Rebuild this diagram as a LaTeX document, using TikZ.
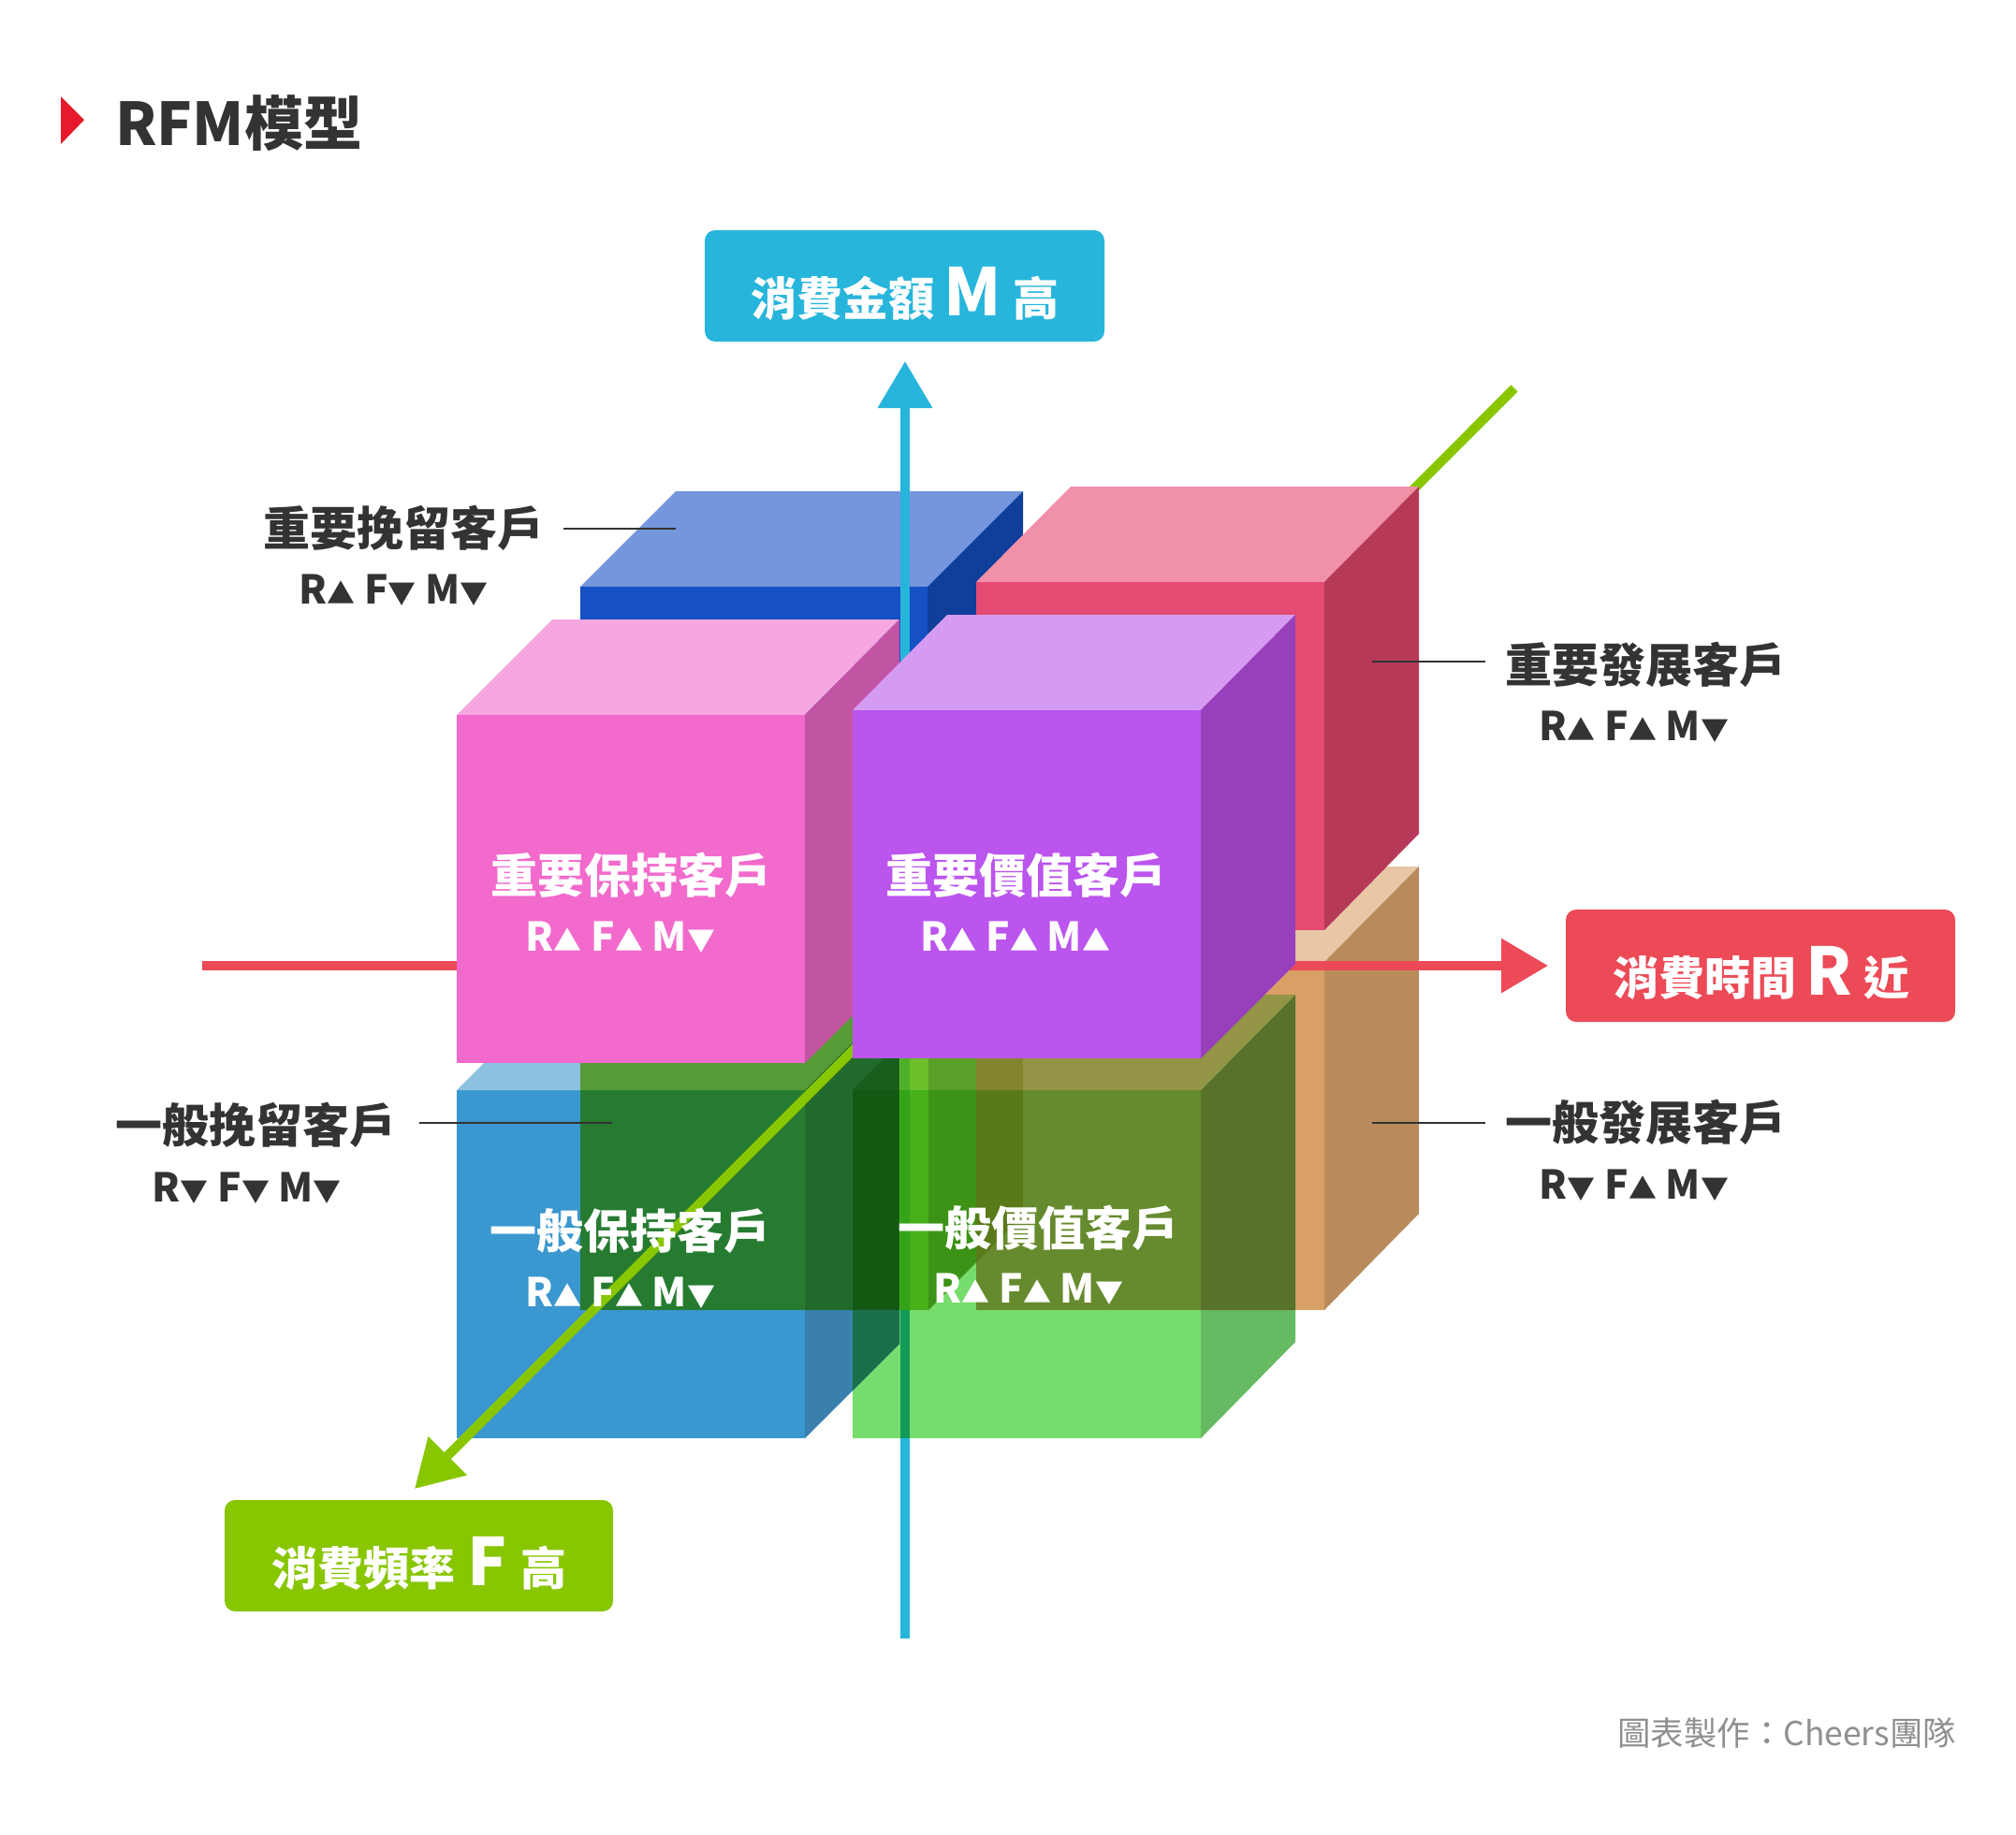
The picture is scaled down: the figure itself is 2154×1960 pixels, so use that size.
\documentclass[tikz,border=0pt]{standalone}
\usepackage{fontspec}
\setmainfont{Noto Sans CJK TC}
\usetikzlibrary{arrows.meta}
\definecolor{ink}{HTML}{333333}
\definecolor{credit}{HTML}{8F8F8F}
\definecolor{mblue}{HTML}{27B5DB}
\definecolor{rred}{HTML}{EC4A57}
\definecolor{fgreen}{HTML}{88C600}
\definecolor{mark}{HTML}{E8192C}
\definecolor{orange1}{HTML}{E8C6A6}
\definecolor{orange2}{HTML}{D9A066}
\definecolor{orange3}{HTML}{B98B5C}
\definecolor{lg1}{HTML}{75DC6D}
\definecolor{lg2}{HTML}{66BA62}
\definecolor{og1}{HTML}{668B2E}
\definecolor{og2}{HTML}{58722A}
\definecolor{og3}{HTML}{939445}
\definecolor{bl1}{HTML}{3B97CF}
\definecolor{bl2}{HTML}{3A80AD}
\definecolor{bl3}{HTML}{8CC1E0}
\definecolor{ov1}{HTML}{267B31}
\definecolor{ov2}{HTML}{569B35}
\definecolor{ov3}{HTML}{22692C}
\definecolor{ov4}{HTML}{19704B}
\definecolor{ov5}{HTML}{125A12}
\definecolor{ov6}{HTML}{175F1A}
\definecolor{ov7}{HTML}{48B018}
\definecolor{ov8}{HTML}{3C9316}
\definecolor{ov9}{HTML}{5A7A1A}
\definecolor{ot1}{HTML}{6BBF2A}
\definecolor{ot2}{HTML}{5C9F28}
\definecolor{ot3}{HTML}{83842D}
\definecolor{ax1}{HTML}{139A57}
\definecolor{ax2}{HTML}{33A31A}
\definecolor{ax3}{HTML}{4CB02A}
\definecolor{bb1}{HTML}{7595DC}
\definecolor{bb2}{HTML}{1550C4}
\definecolor{bb3}{HTML}{103E9B}
\definecolor{rd1}{HTML}{F090A9}
\definecolor{rd2}{HTML}{E54A72}
\definecolor{rd3}{HTML}{B63A58}
\definecolor{pk1}{HTML}{F6A6E1}
\definecolor{pk2}{HTML}{F26ACC}
\definecolor{pk3}{HTML}{C255A3}
\definecolor{pu1}{HTML}{D59BF3}
\definecolor{pu2}{HTML}{BB55EE}
\definecolor{pu3}{HTML}{9840BC}
\newcommand{\tu}{{\fontsize{30}{30}\selectfont ▲}}
\newcommand{\td}{{\fontsize{30}{30}\selectfont ▼}}
\tikzset{
  face/.style={fill=#1,draw=none},
  axisline/.style={line width=10pt,draw=#1,-{Triangle[length=50pt,width=56pt]}},
  axisbox/.style={fill=#1,draw=none,rounded corners=11pt},
  boxtext/.style={anchor=base,text=white,font=\bfseries\fontsize{49}{49}\selectfont,inner sep=0pt},
  mainlabel/.style={anchor=base,inner sep=0pt,text=#1,font=\bfseries\fontsize{50}{50}\selectfont},
  sublabel/.style={anchor=base,inner sep=0pt,text=#1,font=\bfseries\fontsize{42.4}{42.4}\selectfont},
  leader/.style={draw=ink,line width=1.6pt}
}
\newcommand{\bigL}[1]{{\fontsize{70}{70}\selectfont #1}}
\begin{document}
\begin{tikzpicture}[x=1pt,y=-1pt]
\useasboundingbox (0,0) rectangle (2154,1960);
\fill[white] (0,0) rectangle (2154,1960);
% title
\fill[face=mark] (65,103) -- (90,128) -- (65,154) -- cycle;
\node[anchor=base west,inner sep=0pt,text=ink,font=\bfseries\fontsize{63}{63}\selectfont] (title) at (123,155) {RFM模型};
% orange cube (back lower right)
\fill[face=orange1] (1043,1028) -- (1415,1028) -- (1516,926) -- (1144,926) -- cycle;
\fill[face=orange2] (1043,1028) rectangle (1415,1400);
\fill[face=orange3] (1415,1028) -- (1516,926) -- (1516,1297) -- (1415,1400) -- cycle;
% green cube (front lower right)
\fill[face=lg1] (911,1165) rectangle (1283,1537);
\fill[face=lg2] (1283,1165) -- (1384,1063) -- (1384,1434) -- (1283,1537) -- cycle;
\fill[face=og1] (1043,1165) rectangle (1283,1400);
\fill[face=og2] (1283,1165) -- (1384,1063) -- (1384,1400) -- (1283,1400) -- cycle;
\fill[face=og3] (1043,1165) -- (1283,1165) -- (1384,1063) -- (1043,1063) -- cycle;
% blue cube (front lower left)
\fill[face=bl1] (488,1165) rectangle (860,1537);
\fill[face=bl2] (860,1165) -- (961,1064) -- (961,1436) -- (860,1537) -- cycle;
\fill[face=bl3] (488,1165) -- (860,1165) -- (961,1064) -- (589,1064) -- cycle;
% overlaps with the back lower left cube
\fill[face=ov1] (620,1165) rectangle (860,1400);
\fill[face=ov2] (620,1165) -- (860,1165) -- (961,1064) -- (620,1064) -- cycle;
\fill[face=ov3] (860,1165) -- (961,1064) -- (961,1400) -- (860,1400) -- cycle;
\fill[face=ov4] (911,1400) -- (961,1400) -- (961,1436) -- (911,1486) -- cycle;
\fill[face=ov5] (911,1165) rectangle (961,1400);
\fill[face=ov6] (911,1165) -- (961,1165) -- (961,1114) -- cycle;
\fill[face=ov7] (961,1165) rectangle (992,1400);
\fill[face=ov8] (992,1165) -- (1043,1165) -- (1043,1349) -- (992,1400) -- cycle;
\fill[face=ov9] (1043,1165) -- (1093,1165) -- (1093,1299) -- (1043,1349) -- cycle;
\fill[face=ot1] (961,1110) rectangle (992,1165);
\fill[face=ot2] (992,1110) rectangle (1043,1165);
\fill[face=ot3] (1043,1110) rectangle (1093,1165);
% back upper left cube
\fill[face=bb1] (620,627) -- (991,627) -- (1093,525) -- (722,525) -- cycle;
\fill[face=bb2] (620,627) rectangle (991,999);
\fill[face=bb3] (991,627) -- (1093,525) -- (1093,898) -- (991,999) -- cycle;
% axes
\coordinate (mStart) at (967,1751);
\coordinate (mTip) at (967,386);
\coordinate (rStart) at (216,1032);
\coordinate (rTip) at (1654,1032);
\coordinate (fStart) at (1618,415);
\coordinate (fTip) at (443,1591);
\draw[axisline=fgreen] (fStart) -- (fTip);
\draw[axisline=rred] (rStart) -- (rTip);
\draw[axisline=mblue] (mStart) -- (mTip);
% tints of the M axis where it runs through the translucent cubes
\fill[face=ax1] (962,1400) rectangle (972,1537);
\fill[face=ax2] (962,1165) rectangle (972,1400);
\fill[face=ax3] (962,1125) rectangle (972,1165);
% red cube (back upper right)
\fill[face=rd1] (1043,622) -- (1415,622) -- (1516,520) -- (1144,520) -- cycle;
\fill[face=rd2] (1043,622) rectangle (1415,994);
\fill[face=rd3] (1415,622) -- (1516,520) -- (1516,891) -- (1415,994) -- cycle;
% pink cube
\fill[face=pk1] (488,764) -- (860,764) -- (961,662) -- (590,662) -- cycle;
\fill[face=pk2] (488,764) rectangle (860,1136);
\fill[face=pk3] (860,764) -- (961,662) -- (961,1035) -- (860,1136) -- cycle;
% purple cube
\fill[face=pu1] (911,759) -- (1283,759) -- (1384,657) -- (1012,657) -- cycle;
\fill[face=pu2] (911,759) rectangle (1283,1131);
\fill[face=pu3] (1283,759) -- (1384,657) -- (1384,1030) -- (1283,1131) -- cycle;
% axis boxes
\path[axisbox=mblue] (753,246) rectangle (1180,365);
\path[axisbox=rred] (1673,972) rectangle (2089,1092);
\path[axisbox=fgreen] (240,1603) rectangle (655,1722);
\node[boxtext] (mLabel) at (967,337) {消費金額\hspace{10pt}\bigL{M}\hspace{12pt}高};
\node[boxtext] (rLabel) at (1882,1063) {消費時間\hspace{10pt}\bigL{R}\hspace{12pt}近};
\node[boxtext] (fLabel) at (448,1694) {消費頻率\hspace{13pt}\bigL{F}\hspace{14pt}高};
% labels
\node[mainlabel=ink] (l1) at (431.4,583) {重要挽留客戶};
\node[sublabel=ink] (s1) at (420.4,645) {R\tu{} F\td{} M\td};
\node[mainlabel=ink] (l2) at (1758,729) {重要發展客戶};
\node[sublabel=ink] (s2) at (1746,791) {R\tu{} F\tu{} M\td};
\node[mainlabel=ink] (l3) at (273.4,1221.5) {一般挽留客戶};
\node[sublabel=ink] (s3) at (263.8,1284) {R\td{} F\td{} M\td};
\node[mainlabel=ink] (l4) at (1758,1218.5) {一般發展客戶};
\node[sublabel=ink] (s4) at (1746,1281) {R\td{} F\tu{} M\td};
\node[mainlabel=white] (l5) at (674,954) {重要保持客戶};
\node[sublabel=white] (s5) at (663,1016) {R\tu{} F\tu{} M\td};
\node[mainlabel=white] (l6) at (1096.5,954) {重要價值客戶};
\node[sublabel=white] (s6) at (1085,1016) {R\tu{} F\tu{} M\tu};
\node[mainlabel=white] (l7) at (673.4,1334.5) {一般保持客戶};
\node[sublabel=white] (s7) at (663,1396.6) {R\tu{} F\tu{} M\td};
\node[mainlabel=white] (l8) at (1109,1331.8) {一般價值客戶};
\node[sublabel=white] (s8) at (1099,1392.5) {R\tu{} F\tu{} M\td};
% leader lines
\coordinate (a1) at (602,565); \coordinate (b1) at (722,565);
\coordinate (a2) at (1466,707); \coordinate (b2) at (1587,707);
\coordinate (a3) at (448,1200); \coordinate (b3) at (654,1200);
\coordinate (a4) at (1466,1200); \coordinate (b4) at (1587,1200);
\draw[leader] (a1) -- (b1);
\draw[leader] (a2) -- (b2);
\draw[leader] (a3) -- (b3);
\draw[leader] (a4) -- (b4);
% credit
\node[anchor=base east,inner sep=0pt,text=credit,font=\fontsize{35.4}{35.4}\selectfont] (cr) at (2090,1865) {圖表製作：Cheers團隊};
\end{tikzpicture}
\end{document}
